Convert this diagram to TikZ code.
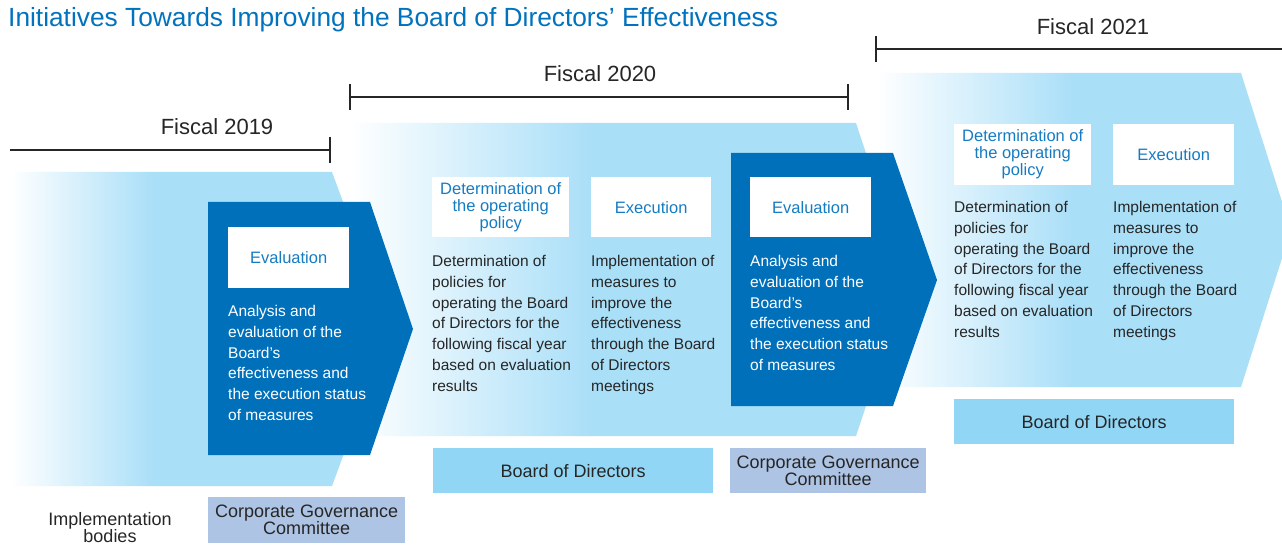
\documentclass[tikz,border=0pt]{standalone}
\usepackage{fontspec}
\setmainfont{Liberation Sans}
\usetikzlibrary{positioning}

\definecolor{arrowblue}{RGB}{170,223,248}
\definecolor{darkblue}{RGB}{0,112,187}
\definecolor{bodblue}{RGB}{146,214,246}
\definecolor{cgcblue}{RGB}{174,196,228}
\definecolor{headblue}{RGB}{22,124,194}
\definecolor{titleblue}{RGB}{0,114,190}
\definecolor{textgray}{RGB}{38,38,38}

% fading left ends of the light arrows
\pgfdeclarehorizontalshading{fadeone}{100bp}{color(0bp)=(white); color(25bp)=(white); color(43.8bp)=(arrowblue); color(100bp)=(arrowblue)}
\pgfdeclarehorizontalshading{fadetwo}{100bp}{color(0bp)=(white); color(25bp)=(white); color(46.5bp)=(arrowblue); color(100bp)=(arrowblue)}
\pgfdeclarehorizontalshading{fadethree}{100bp}{color(0bp)=(white); color(25bp)=(white); color(48.7bp)=(arrowblue); color(100bp)=(arrowblue)}

\tikzset{
  headbox/.style={fill=white, text=headblue, align=center, inner sep=0pt, anchor=north west,
    minimum height=61pt, font=\fontsize{16.5}{17}\selectfont},
  bodytext/.style={anchor=north west, inner sep=0pt, align=left, text=textgray,
    font=\fontsize{15.5}{20.7}\selectfont},
  bodybox/.style={fill=bodblue, text=textgray, align=center, inner sep=0pt, anchor=north west,
    minimum height=46pt, font=\fontsize{18}{17}\selectfont},
  cgcbox/.style={bodybox, fill=cgcblue},
  fiscal/.style={text=textgray, font=\fontsize{22}{22}\selectfont},
  yearline/.style={line width=1.6pt, draw=textgray},
}

\begin{document}
\begin{tikzpicture}[x=1pt, y=-1pt]
	\useasboundingbox (0,0) rectangle (1282,545);
	\fill[white] (0,0) rectangle (1282,545);

	% title
	\node[anchor=west, inner sep=0pt, text=titleblue, font=\fontsize{26.3}{27}\selectfont] (title) at (8,20) {Initiatives Towards Improving the Board of Directors’ Effectiveness};

	% fiscal year brackets
	\coordinate (fy19a) at (10,150);
	\coordinate (fy19b) at (330,150);
	\draw[yearline] (fy19a) -- (fy19b);
	\draw[yearline] ([yshift=13pt]fy19b) -- ([yshift=-13pt]fy19b);
	\node[fiscal] (fiscal19) at (217,127) {Fiscal 2019};

	\coordinate (fy20a) at (350,97);
	\coordinate (fy20b) at (848,97);
	\draw[yearline] (fy20a) -- (fy20b);
	\draw[yearline] ([yshift=13pt]fy20a) -- ([yshift=-13pt]fy20a);
	\draw[yearline] ([yshift=13pt]fy20b) -- ([yshift=-13pt]fy20b);
	\node[fiscal] (fiscal20) at (600,74) {Fiscal 2020};

	\coordinate (fy21a) at (876,49);
	\coordinate (fy21b) at (1282,49);
	\draw[yearline] (fy21a) -- (fy21b);
	\draw[yearline] ([yshift=13pt]fy21a) -- ([yshift=-13pt]fy21a);
	\node[fiscal] (fiscal21) at (1093,27) {Fiscal 2021};

	% light arrows
	\shade[shading=fadeone] (10,172) -- (332,172) -- (390,329) -- (332,486) -- (10,486) -- cycle;
	\shade[shading=fadetwo] (350,123) -- (856,123) -- (908,280) -- (856,436) -- (350,436) -- cycle;
	\shade[shading=fadethree] (876,73) -- (1241,73) -- (1291,230) -- (1241,387) -- (876,387) -- cycle;

	% dark evaluation arrows
	\fill[darkblue] (208,202) -- (370,202) -- (413,329) -- (370,455) -- (208,455) -- cycle;
	\fill[darkblue] (731,153) -- (893,153) -- (937,280) -- (893,406) -- (731,406) -- cycle;

	% fiscal 2019
	\node[headbox, minimum width=121pt] (eval19) at (228,227) {Evaluation};
	\node[bodytext, text=white] (evaltext19) at ([yshift=-17pt]eval19.south west) {Analysis and\\evaluation of the\\Board’s\\effectiveness and\\the execution status\\of measures};

	% fiscal 2020
	\node[headbox, minimum width=137pt, minimum height=60pt] (det20) at (432,177) {Determination of\\the operating\\policy};
	\node[bodytext] (dettext20) at ([yshift=-18pt]det20.south west) {Determination of\\policies for\\operating the Board\\of Directors for the\\following fiscal year\\based on evaluation\\results};
	\node[headbox, minimum width=120pt, minimum height=60pt] (exec20) at (591,177) {Execution};
	\node[bodytext] (exectext20) at ([yshift=-18pt]exec20.south west) {Implementation of\\measures to\\improve the\\effectiveness\\through the Board\\of Directors\\meetings};
	\node[headbox, minimum width=121pt, minimum height=60pt] (eval20) at (750,177) {Evaluation};
	\node[bodytext, text=white] (evaltext20) at ([yshift=-18pt]eval20.south west) {Analysis and\\evaluation of the\\Board’s\\effectiveness and\\the execution status\\of measures};

	% fiscal 2021
	\node[headbox, minimum width=137pt] (det21) at (954,124) {Determination of\\the operating\\policy};
	\node[bodytext] (dettext21) at ([yshift=-16pt]det21.south west) {Determination of\\policies for\\operating the Board\\of Directors for the\\following fiscal year\\based on evaluation\\results};
	\node[headbox, minimum width=121pt] (exec21) at (1113,124) {Execution};
	\node[bodytext] (exectext21) at ([yshift=-16pt]exec21.south west) {Implementation of\\measures to\\improve the\\effectiveness\\through the Board\\of Directors\\meetings};

	% implementation bodies
	\node[text=textgray, align=center, inner sep=0pt, font=\fontsize{18}{17}\selectfont] (bodies) at (110,528) {Implementation\\bodies};
	\node[cgcbox, minimum width=197pt] (cgc19) at (208,497) {Corporate Governance\\Committee};
	\node[bodybox, minimum width=280pt, minimum height=45pt] (bod20) at (433,448) {Board of Directors};
	\node[cgcbox, minimum width=196pt, minimum height=45pt] (cgc20) at (730,448) {Corporate Governance\\Committee};
	\node[bodybox, minimum width=280pt, minimum height=45pt] (bod21) at (954,399) {Board of Directors};
\end{tikzpicture}
\end{document}
